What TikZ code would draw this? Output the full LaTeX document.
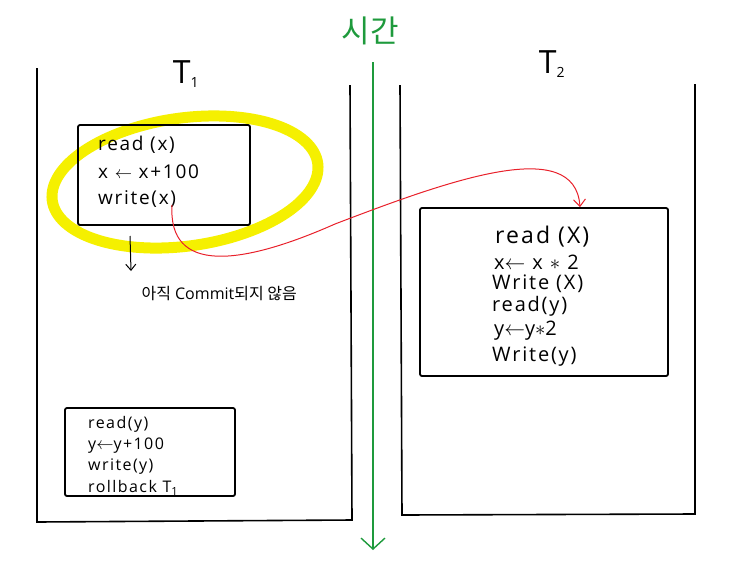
\documentclass[tikz,border=0pt]{standalone}
\usepackage{fontspec}
\setmainfont{Open Sans}
\newfontfamily\kofont{Noto Sans CJK KR}
\newfontfamily\handfont[LetterSpace=9]{Open Sans}
\usetikzlibrary{arrows.meta}
\definecolor{hlyellow}{HTML}{F5F000}
\definecolor{timegreen}{HTML}{1E9A3C}
\definecolor{linkred}{HTML}{E8202A}
\tikzset{
  lane/.style={line width=1.6pt},
  txbox/.style={draw,line width=1.8pt,rectangle,rounded corners=2pt},
  op/.style={anchor=west,inner sep=0pt},
}
\begin{document}
\begin{tikzpicture}[x=1pt,y=-1pt]
  \useasboundingbox (0,0) rectangle (731,571);

  % lanes of the two transactions
  \draw[lane] (37,68) -- (37,522) -- (352,520) -- (350,85);
  \draw[lane] (400,85) -- (402,515) -- (695,514) -- (695,84);

  \node (t1) at (186,74) {\fontsize{32}{32}\selectfont T\textsubscript{\fontsize{14}{14}\selectfont 1}};
  \node (t2) at (552,64) {\fontsize{32}{32}\selectfont T\textsubscript{\fontsize{14}{14}\selectfont 2}};

  % time axis
  \node[text=timegreen] (time) at (370,31) {\kofont\fontsize{31}{31}\selectfont 시간};
  \coordinate (ttop) at (373,62);
  \coordinate (tbot) at (373,550);
  \draw[timegreen,line width=1.4pt,-{Straight Barb[length=11pt,width=24pt]}] (ttop) -- (tbot);

  % highlight
  \coordinate (hc) at (185,182);
  \draw[hlyellow,line width=11pt,rotate around={8:(hc)}]
    (hc) ++(-62:134pt and 64pt) arc[start angle=-62,end angle=310,x radius=134pt,y radius=64pt];

  % boxes
  \node[txbox,minimum width=172pt,minimum height=100pt] (b1) at (164,175) {};
  \node[txbox,minimum width=170pt,minimum height=88pt] (b2) at (150,452) {};
  \node[txbox,minimum width=248pt,minimum height=168pt] (b3) at (544,292) {};

  \begin{scope}[every node/.style={op,font=\handfont\fontsize{19}{19}\selectfont}]
    \node (r1) at (98,145) {read (x)};
    \node (a1) at (98,172) {x $\leftarrow$ x+100};
    \node (w1) at (98,199) {write(x)};
  \end{scope}

  \begin{scope}[every node/.style={op,font=\handfont\fontsize{16}{16}\selectfont}]
    \node (r2) at (88,424) {read(y)};
    \node (a2) at (88,446) {y$\leftarrow$y+100};
    \node (w2) at (88,467) {write(y)};
    \node (rb) at (88,488) {rollback T\textsubscript{1}};
  \end{scope}

  \begin{scope}[every node/.style={op,font=\handfont\fontsize{20}{20}\selectfont}]
    \node[font=\handfont\fontsize{23}{23}\selectfont] (r3) at (495,237) {read (X)};
    \node (a3) at (494,262) {x$\leftarrow$ x $*$ 2};
    \node (w3) at (492,284) {Write (X)};
    \node (r4) at (492,306) {read(y)};
    \node (a4) at (494,331) {y$\leftarrow$y$*$2};
    \node (w4) at (492,357) {Write(y)};
  \end{scope}

  % note
  \coordinate (nstart) at (130,236);
  \node[anchor=west,font=\fontsize{16}{16}\selectfont] (note) at (138,294) {{\kofont 아직} Commit{\kofont 되지 않음}};
  \draw[line width=1pt,-{Straight Barb[length=6pt,width=10pt]}] (nstart) -- (131,271);

  % read of uncommitted x
  \coordinate (wx) at (172,205);
  \draw[linkred,line width=1pt,-{Straight Barb[length=7pt,width=12pt]}]
    (wx) .. controls (168,274) and (240,266) .. (335,224)
    .. controls (450,180) and (575,135) .. (b3.north -| 580,0);
\end{tikzpicture}
\end{document}
